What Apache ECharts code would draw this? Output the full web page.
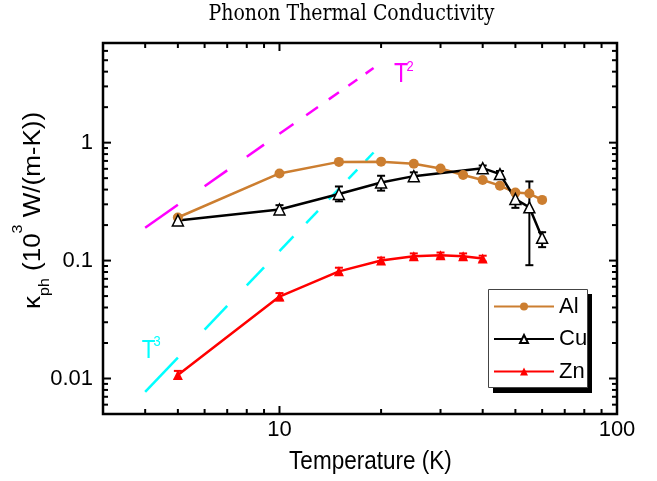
<!DOCTYPE html>
<html>
<head>
<meta charset="utf-8">
<title>Phonon Thermal Conductivity</title>
<script src="https://cdn.jsdelivr.net/npm/echarts@6/dist/echarts.min.js"></script>
<style>
  html, body { margin: 0; padding: 0; background: #fff; }
  #chart { width: 657px; height: 481px; }
</style>
</head>
<body>
<div id="chart"></div>
<script>
// values: T in K, kappa in 10^3 W/(m-K)
var alTemp = [5, 10, 15, 20, 25, 30, 35, 40, 45, 50, 55, 60];
var alKappa = [0.232, 0.548, 0.687, 0.69, 0.662, 0.604, 0.531, 0.482, 0.432, 0.377, 0.37, 0.327];

var cuTemp = [5, 10, 15, 20, 25, 40, 45, 50, 55, 60];
var cuKappa = [0.219, 0.271, 0.367, 0.46, 0.52, 0.608, 0.541, 0.333, 0.283, 0.156];
var cuLow = [0.2, 0.25, 0.318, 0.392, 0.49, 0.58, 0.51, 0.28, 0.0914, 0.13];
var cuHigh = [0.24, 0.295, 0.425, 0.524, 0.56, 0.64, 0.575, 0.38, 0.469, 0.174];

var znTemp = [5, 10, 15, 20, 25, 30, 35, 40];
var znKappa = [0.0107, 0.0495, 0.081, 0.1, 0.109, 0.111, 0.109, 0.104];
var znLow = [0.0099, 0.046, 0.076, 0.094, 0.103, 0.105, 0.103, 0.098];
var znHigh = [0.0116, 0.053, 0.087, 0.106, 0.115, 0.117, 0.115, 0.11];

// guide lines: [T start, kappa start, T end, kappa end]
var guideT2 = [4, 0.19, 19, 4.29];
var guideT3 = [4, 0.0077, 19, 0.825];

// axes
var xMin = 3, xMax = 100, yMin = 0.005, yMax = 7;
var xTickValues = [10, 100];
var xTickLabels = ['10', '100'];
var xMinorTicks = [4, 5, 6, 7, 8, 9, 20, 30, 40, 50, 60, 70, 80, 90];
var yTickValues = [0.01, 0.1, 1];
var yTickLabels = ['0.01', '0.1', '1'];
var yMinorTicks = [0.006, 0.007, 0.008, 0.009, 0.02, 0.03, 0.04, 0.05, 0.06, 0.07, 0.08, 0.09,
                   0.2, 0.3, 0.4, 0.5, 0.6, 0.7, 0.8, 0.9, 2, 3, 4, 5, 6];

var sans = "'Liberation Sans', Arial, sans-serif";
var serif = "'DejaVu Serif', serif";
var alColor = '#cc7e30';
var dashStep = 1; // dash / gap length, in K
var squeeze = 0.86; // the original lettering is narrow

function pairs(xs, ys) {
    return xs.map(function (x, i) { return [x, ys[i]]; });
}
function triples(xs, a, b) {
    return xs.map(function (x, i) { return [x, a[i], b[i]]; });
}
// label only the decades
function labelFor(values, labels) {
    return function (v) {
        for (var i = 0; i < values.length; i++) {
            if (Math.abs(Math.log10(v) - Math.log10(values[i])) < 1e-6) return labels[i];
        }
        return '';
    };
}

// ticks on all four sides, pointing in
var tickData = [];
xTickValues.forEach(function (v) { tickData.push([v, yMin, 1, 0]); });
xMinorTicks.forEach(function (v) { tickData.push([v, yMin, 0, 0]); });
yTickValues.forEach(function (v) { tickData.push([xMin, v, 1, 1]); });
yMinorTicks.forEach(function (v) { tickData.push([xMin, v, 0, 1]); });

function renderTick(params, api) {
    var len = api.value(2) ? 8 : 5;
    var st = { stroke: '#000', lineWidth: 2 };
    var a, b;
    if (api.value(3)) {
        a = api.coord([xMin, api.value(1)]);
        b = api.coord([xMax, api.value(1)]);
        return { type: 'group', children: [
            { type: 'line', shape: { x1: a[0], y1: a[1], x2: a[0] + len, y2: a[1] }, style: st },
            { type: 'line', shape: { x1: b[0], y1: b[1], x2: b[0] - len, y2: b[1] }, style: st }
        ] };
    }
    a = api.coord([api.value(0), yMin]);
    b = api.coord([api.value(0), yMax]);
    return { type: 'group', children: [
        { type: 'line', shape: { x1: a[0], y1: a[1], x2: a[0], y2: a[1] - len }, style: st },
        { type: 'line', shape: { x1: b[0], y1: b[1], x2: b[0], y2: b[1] + len }, style: st }
    ] };
}

// dashed straight line, dashes every dashStep K (the original is dashed in linear T)
function makeGuideRenderer(color) {
    return function (params, api) {
        var t0 = api.value(0), k0 = api.value(1), t1 = api.value(2), k1 = api.value(3);
        var p1 = api.coord([t0, k0]);
        var p2 = api.coord([t1, k1]);
        var children = [];
        function yAt(x) { return p1[1] + (x - p1[0]) / (p2[0] - p1[0]) * (p2[1] - p1[1]); }
        for (var t = t0; t < t1 - 1e-9; t += 2 * dashStep) {
            var xa = api.coord([t, k0])[0];
            var xb = api.coord([Math.min(t + dashStep, t1), k0])[0];
            children.push({ type: 'line', shape: { x1: xa, y1: yAt(xa), x2: xb, y2: yAt(xb) },
                style: { stroke: color, lineWidth: 2.5 } });
        }
        return { type: 'group', children: children };
    };
}

function makeErrRenderer(color) {
    return function (params, api) {
        var lo = api.coord([api.value(0), api.value(1)]);
        var hi = api.coord([api.value(0), api.value(2)]);
        var w = 4;
        var st = { stroke: color, lineWidth: 2 };
        return { type: 'group', children: [
            { type: 'line', shape: { x1: lo[0], y1: lo[1], x2: hi[0], y2: hi[1] }, style: st },
            { type: 'line', shape: { x1: lo[0] - w, y1: lo[1], x2: lo[0] + w, y2: lo[1] }, style: st },
            { type: 'line', shape: { x1: hi[0] - w, y1: hi[1], x2: hi[0] + w, y2: hi[1] }, style: st }
        ] };
    };
}

// y axis title, built piece by piece so sub/superscript sit where they should
// each piece: text, font size, x of its centre line (rotated text, reads upward)
var yTitleParts = [
    ['κ', 26, 34],
    ['ph', 16, 45],
    [' (10', 26, 34],
    ['3', 16, 18],
    [' W/(m-K))', 26, 34]
];
function buildYTitle(yStart) {
    var ctx = document.createElement('canvas').getContext('2d');
    var y = yStart;
    return yTitleParts.map(function (p) {
        ctx.font = p[1] + 'px ' + sans;
        var w = ctx.measureText(p[0]).width;
        var el = { type: 'text', x: p[2], y: y, rotation: Math.PI / 2, scaleY: 0.9, silent: true,
            style: { text: p[0], fill: '#000', fontFamily: sans, fontSize: p[1], align: 'left', verticalAlign: 'middle' } };
        y -= w;
        return el;
    });
}

var chart = echarts.init(document.getElementById('chart'), null, { renderer: 'canvas' });

var graphics = [
    // legend frame with its hard shadow
    { type: 'rect', z: 8, silent: true, shape: { x: 493, y: 294, width: 99, height: 99 }, style: { fill: '#000' } },
    { type: 'rect', z: 9, silent: true, shape: { x: 488.5, y: 289.5, width: 99, height: 98 },
      style: { fill: '#fff', stroke: '#444', lineWidth: 1 } },
    { type: 'text', x: 351.5, y: 14.5, scaleX: squeeze, silent: true,
      style: { text: 'Phonon Thermal Conductivity', fill: '#000', fontFamily: serif, fontSize: 22,
               align: 'center', verticalAlign: 'middle' } },
    { type: 'text', x: 370.4, y: 461.7, scaleX: 0.9, silent: true,
      style: { text: 'Temperature (K)', fill: '#000', fontFamily: sans, fontSize: 25,
               align: 'center', verticalAlign: 'middle' } },
    { type: 'text', x: 394, y: 75, scaleX: squeeze, silent: true,
      style: { text: 'T', fill: '#ff00ff', fontFamily: sans, fontSize: 27, align: 'left', verticalAlign: 'middle' } },
    { type: 'text', x: 406.5, y: 67, scaleX: squeeze, silent: true,
      style: { text: '2', fill: '#ff00ff', fontFamily: sans, fontSize: 15, align: 'left', verticalAlign: 'middle' } },
    { type: 'text', x: 141.7, y: 351, scaleX: squeeze, silent: true,
      style: { text: 'T', fill: '#00ffff', fontFamily: sans, fontSize: 26, align: 'left', verticalAlign: 'middle' } },
    { type: 'text', x: 153.5, y: 341.7, scaleX: squeeze, silent: true,
      style: { text: '3', fill: '#00ffff', fontFamily: sans, fontSize: 15, align: 'left', verticalAlign: 'middle' } }
].concat(buildYTitle(309));

var option = {
    animation: false,
    backgroundColor: '#fff',
    grid: { left: 103, right: 40, top: 43, bottom: 67, show: true, borderColor: '#000', borderWidth: 2.5 },
    xAxis: {
        type: 'log', logBase: 10, min: xMin, max: xMax,
        axisLine: { show: false }, axisTick: { show: false }, splitLine: { show: false },
        axisLabel: { formatter: labelFor(xTickValues, xTickLabels), margin: 5, color: '#000',
            fontFamily: sans, fontSize: 22 }
    },
    yAxis: {
        type: 'log', logBase: 10, min: yMin, max: yMax,
        axisLine: { show: false }, axisTick: { show: false }, splitLine: { show: false },
        axisLabel: { formatter: labelFor(yTickValues, yTickLabels), margin: 10, color: '#000',
            fontFamily: sans, fontSize: 22 }
    },
    legend: {
        data: ['Al', 'Cu', 'Zn'],
        orient: 'vertical',
        left: 488, top: 289,
        padding: [5, 1, 4, 5],
        itemGap: 7.5,
        itemWidth: 60,
        itemHeight: 10,
        selectedMode: false,
        z: 10,
        textStyle: { fontFamily: sans, fontSize: 22, lineHeight: 25, color: '#000' }
    },
    graphic: graphics,
    series: [
        { type: 'custom', name: 'T2', data: [guideT2], renderItem: makeGuideRenderer('#ff00ff'), silent: true, z: 1 },
        { type: 'custom', name: 'T3', data: [guideT3], renderItem: makeGuideRenderer('#00ffff'), silent: true, z: 1 },
        { type: 'custom', name: 'CuErr', data: triples(cuTemp, cuLow, cuHigh), renderItem: makeErrRenderer('#000'), silent: true, z: 2 },
        { type: 'custom', name: 'ZnErr', data: triples(znTemp, znLow, znHigh), renderItem: makeErrRenderer('#ff0000'), silent: true, z: 2 },
        { type: 'line', name: 'Al', data: pairs(alTemp, alKappa), symbol: 'circle', symbolSize: 10,
          lineStyle: { color: alColor, width: 2.5 }, itemStyle: { color: alColor }, z: 3 },
        { type: 'line', name: 'Cu', data: pairs(cuTemp, cuKappa), symbol: 'triangle', symbolSize: 11,
          lineStyle: { color: '#000', width: 2.5 }, itemStyle: { color: '#fff', borderColor: '#000', borderWidth: 1.5 }, z: 3 },
        { type: 'line', name: 'Zn', data: pairs(znTemp, znKappa), symbol: 'triangle', symbolSize: 10,
          lineStyle: { color: '#ff0000', width: 2.5 }, itemStyle: { color: '#ff0000' }, z: 3 },
        { type: 'custom', name: 'ticks', data: tickData, renderItem: renderTick, silent: true, clip: false, z: 5 }
    ]
};
chart.setOption(option);
</script>
</body>
</html>
